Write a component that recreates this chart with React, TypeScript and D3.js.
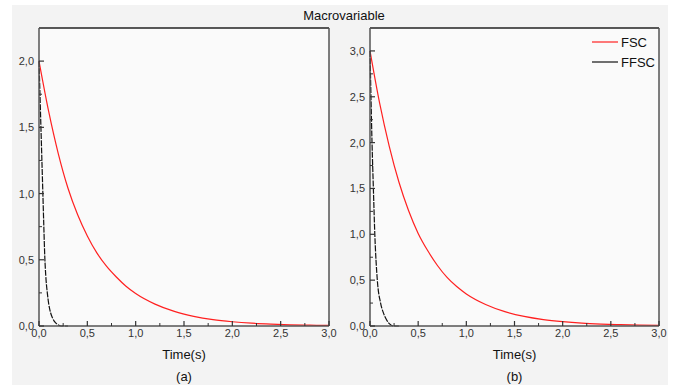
import React from "react";
import * as d3 from "d3";

const fscTime = [0, 0.1, 0.2, 0.3, 0.4, 0.5, 0.6, 0.7, 0.8, 0.9, 1.0, 1.2, 1.4, 1.6, 1.8, 2.0, 2.2, 2.4, 2.6, 2.8, 3.0];
const fscA = [2.0, 1.62, 1.3, 1.04, 0.84, 0.68, 0.55, 0.45, 0.37, 0.3, 0.245, 0.165, 0.11, 0.073, 0.048, 0.032, 0.021, 0.014, 0.009, 0.006, 0.004];
const fscB = [3.0, 2.43, 1.96, 1.57, 1.26, 1.01, 0.82, 0.66, 0.53, 0.43, 0.35, 0.235, 0.157, 0.105, 0.07, 0.047, 0.031, 0.021, 0.014, 0.009, 0.006];

const ffscTimeA = [0, 0.01, 0.02, 0.03, 0.04, 0.05, 0.06, 0.07, 0.086, 0.1, 0.12, 0.14, 0.17, 0.2, 0.23, 0.3];
const ffscA = [2.0, 1.75, 1.5, 1.25, 1.0, 0.75, 0.52, 0.38, 0.25, 0.17, 0.1, 0.06, 0.025, 0.008, 0.0, 0.0];
const ffscTimeB = [0, 0.01, 0.021, 0.035, 0.05, 0.076, 0.11, 0.14, 0.17, 0.2, 0.24, 0.3];
const ffscB = [3.0, 2.5, 2.0, 1.5, 1.0, 0.5, 0.25, 0.14, 0.07, 0.025, 0.0, 0.0];

const xTicks = [0, 0.5, 1.0, 1.5, 2.0, 2.5, 3.0];
const yTicksA = [0, 0.5, 1.0, 1.5, 2.0];
const yTicksB = [0, 0.5, 1.0, 1.5, 2.0, 2.5, 3.0];
const seriesNames = ["FSC", "FFSC"];
const seriesColors = ["#ff2020", "#111111"];
const panelLabels = ["(a)", "(b)"];

const FONT = "'Liberation Sans', Arial, sans-serif";
const fmt = (v: number) => v.toFixed(1).replace(".", ",");

type PanelProps = {
  x0: number; x1: number; y0: number; y1: number;
  yMax: number; yTicks: number[];
  fsc: number[]; ffscT: number[]; ffsc: number[];
  label: string; legend?: boolean;
};

function Panel({ x0, x1, y0, y1, yMax, yTicks, fsc, ffscT, ffsc, label, legend }: PanelProps) {
  const x = d3.scaleLinear().domain([0, 3]).range([x0, x1]);
  const y = d3.scaleLinear().domain([0, yMax]).range([y1, y0]);
  const line = d3.line<[number, number]>().x(d => x(d[0])).y(d => y(d[1])).curve(d3.curveMonotoneX);
  const fscPts: [number, number][] = fscTime.map((t, i) => [t, fsc[i]]);
  const ffscPts: [number, number][] = ffscT.map((t, i) => [t, ffsc[i]]);
  const xMinor = d3.range(0.25, 3, 0.5);
  const yMinor = d3.range(0.25, yMax, 0.5);
  const axisCol = "#555";
  return (
    <g>
      <rect x={x0} y={y0} width={x1 - x0} height={y1 - y0} fill="#fafafa" />
      <path d={line(fscPts) || ""} fill="none" stroke={seriesColors[0]} strokeWidth={1.2} />
      <path d={line(ffscPts) || ""} fill="none" stroke={seriesColors[1]} strokeWidth={1.2} strokeDasharray="6,1.2" />
      {/* frame */}
      <line x1={x0} x2={x1} y1={y0} y2={y0} stroke="#222" strokeWidth={1.6} />
      <line x1={x0} x2={x0} y1={y0} y2={y1} stroke={axisCol} strokeWidth={1.5} />
      <line x1={x1} x2={x1} y1={y0} y2={y1} stroke={axisCol} strokeWidth={1.5} />
      <line x1={x0} x2={x1} y1={y1} y2={y1} stroke={axisCol} strokeWidth={1.5} />
      {xTicks.map(t => (
        <g key={"xt" + t}>
          <line x1={x(t)} x2={x(t)} y1={y1} y2={y1 - 5} stroke="#333" strokeWidth={1.2} />
          <text x={x(t)} y={y1 + 11} textAnchor="middle" fontSize={11} fill="#333" fontFamily={FONT}>{fmt(t)}</text>
        </g>
      ))}
      {xMinor.map(t => (
        <line key={"xm" + t} x1={x(t)} x2={x(t)} y1={y1} y2={y1 - 3} stroke="#333" strokeWidth={1} />
      ))}
      {yTicks.map(v => (
        <g key={"yt" + v}>
          <line x1={x0} x2={x0 + 5} y1={y(v)} y2={y(v)} stroke="#333" strokeWidth={1.2} />
          <text x={x0 - 5} y={y(v) + 4} textAnchor="end" fontSize={11} fill="#333" fontFamily={FONT}>{fmt(v)}</text>
        </g>
      ))}
      {yMinor.map(v => (
        <line key={"ym" + v} x1={x0} x2={x0 + 3} y1={y(v)} y2={y(v)} stroke="#333" strokeWidth={1} />
      ))}
      <text x={(x0 + x1) / 2} y={y1 + 33} textAnchor="middle" fontSize={13} fill="#111" fontFamily={FONT}>Time(s)</text>
      <text x={(x0 + x1) / 2} y={y1 + 55} textAnchor="middle" fontSize={13} fill="#111" fontFamily={FONT}>{label}</text>
      {legend && seriesNames.map((n, i) => (
        <g key={n}>
          <line x1={x1 - 67} x2={x1 - 41} y1={y0 + 14 + i * 20} y2={y0 + 14 + i * 20} stroke={seriesColors[i]} strokeWidth={1.2} />
          <text x={x1 - 38} y={y0 + 19 + i * 20} fontSize={13} fill="#111" fontFamily={FONT}>{n}</text>
        </g>
      ))}
    </g>
  );
}

export default function App() {
  return (
    <svg width={680} height={385} style={{ position: "fixed", left: 0, top: 0, background: "#fff" }}>
      <rect x={12} y={5} width={656} height={380} fill="#f3f3f3" />
      <text x={344} y={20} textAnchor="middle" fontSize={13} fill="#111" fontFamily={FONT}>Macrovariable</text>
      <Panel x0={39} x1={329} y0={28} y1={326} yMax={2.25} yTicks={yTicksA}
        fsc={fscA} ffscT={ffscTimeA} ffsc={ffscA} label={panelLabels[0]} />
      <Panel x0={370} x1={659} y0={28} y1={326} yMax={3.25} yTicks={yTicksB}
        fsc={fscB} ffscT={ffscTimeB} ffsc={ffscB} label={panelLabels[1]} legend />
    </svg>
  );
}
